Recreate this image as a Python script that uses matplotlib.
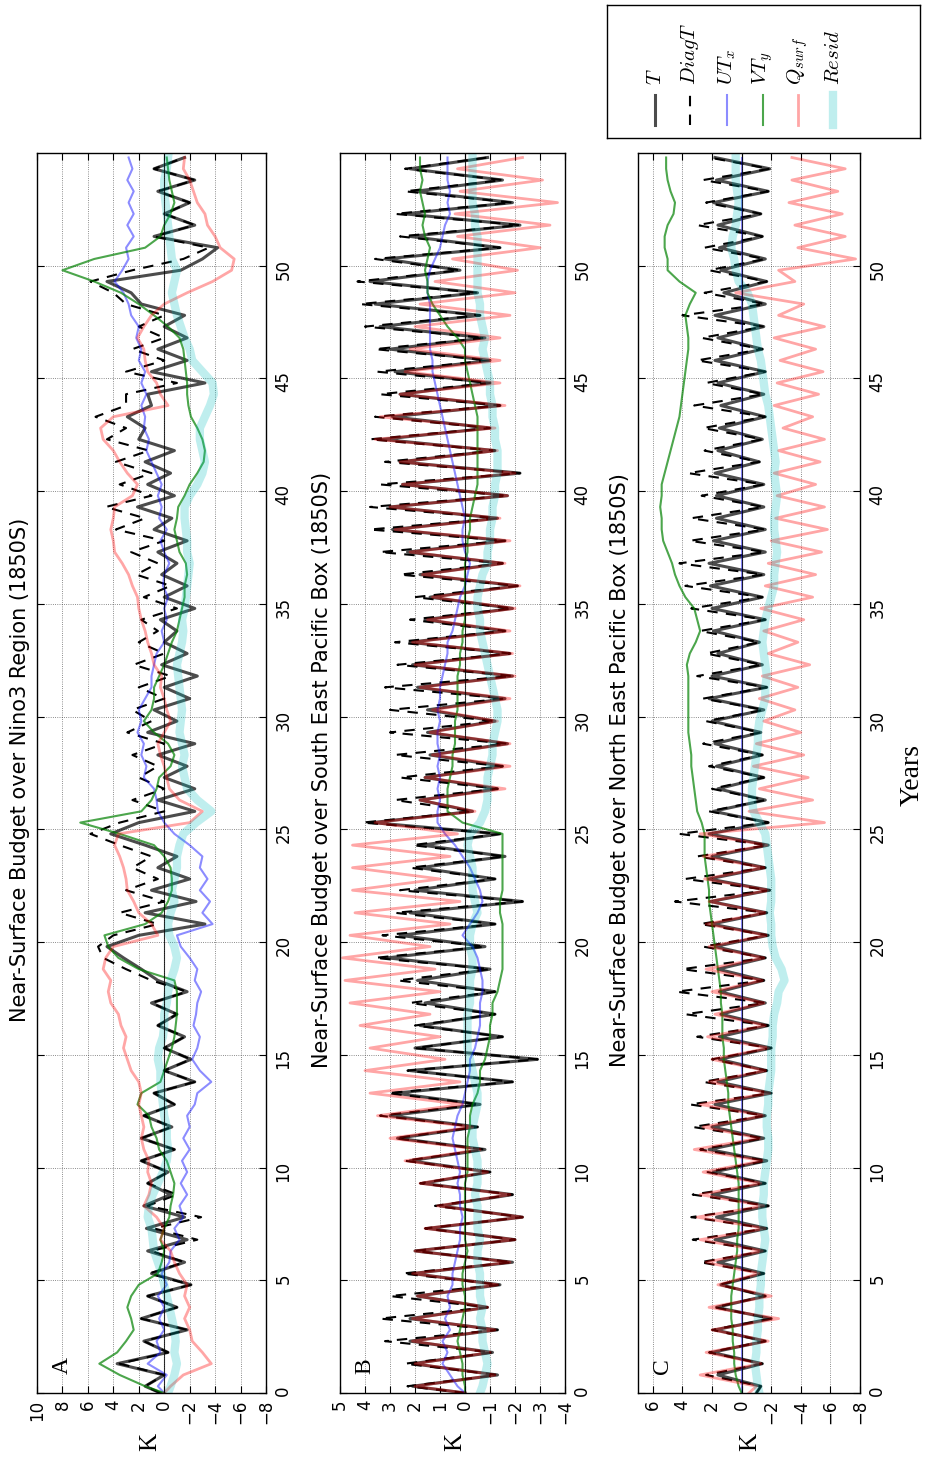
import numpy as np
import matplotlib
matplotlib.use("Agg")
import matplotlib.pyplot as plt

plt.rcParams["mathtext.fontset"] = "cm"
plt.rcParams["font.family"] = ["DejaVu Sans"]

# Sample times (years): start value, then alternating half-year extremes
years = np.concatenate([[0.0], 0.3 + 0.5 * np.arange(110)])

# ---------------- Nino3 region ----------------
T_A = [0.3,
       1.5, 0.0, 3.7, -0.3, 1.6, -1.8, 1.8, -1.0, 1.3, -2.1,
       1.0, -1.6, 1.3, -1.8, 1.4, -1.6, 1.6, -0.5, 1.3, -0.3,
       1.8, -0.8, 1.8, -0.6, 1.6, -0.8, 0.8, -2.4, 0.0, -2.1,
       0.0, -1.6, 0.5, -1.0, 1.0, -1.8, 0.5, 1.8, 3.2, 4.5,
       2.0, -3.2, 1.5, -2.5, 1.0, -2.0, 0.5, -1.0, 1.5, 4.2,
       2.0, -2.4, 0.5, -2.4, 0.0, -1.8, 0.5, -2.4, 1.3, -1.0,
       0.8, -2.0, 0.0, -2.6, 0.2, -1.8, 0.0, -1.0, 0.3, -2.4,
       0.0, -1.8, 0.2, -1.0, 0.5, -1.8, 0.8, -0.6, 2.1, -0.8,
       1.3, -0.5, 1.5, -0.8, 2.0, 1.5, 2.9, 1.0, 1.3, -3.2,
       1.0, -1.8, 0.5, -1.8, 0.0, -1.6, 1.8, 2.6, 4.5, -1.3,
       -3.0, -4.2, 0.8, -2.4, 0.0, -2.0, 0.5, -2.4, 0.8, -1.6]
DiagT_A = [0.3,
           1.5, 0.0, 3.5, -0.3, 1.6, -1.8, 1.8, -1.0, 1.3, -2.1,
           1.2, -1.6, 1.0, -2.6, 0.8, -2.9, 1.3, -1.0, 1.3, -0.3,
           1.8, -0.8, 1.8, -0.6, 1.6, -0.8, 0.8, -2.4, 0.0, -2.1,
           0.0, -1.6, 0.5, -1.0, 1.0, -1.8, 1.0, 3.0, 4.8, 5.2,
           4.0, 0.5, 3.5, 0.0, 3.0, 0.5, 2.5, 1.0, 3.5, 5.8,
           3.5, 0.0, 2.5, 0.0, 2.0, 0.5, 2.5, 0.0, 2.9, 1.0,
           2.5, 0.0, 2.0, -0.5, 2.4, 0.0, 2.0, 0.5, 1.8, -1.0,
           1.6, -0.5, 2.2, 0.5, 2.6, 0.0, 3.8, 1.5, 4.6, 1.0,
           3.5, 1.0, 3.8, 1.2, 4.5, 3.0, 5.4, 3.0, 3.0, -1.0,
           3.0, 0.0, 2.5, 0.0, 2.0, 0.0, 3.0, 4.0, 5.8, 2.5,
           -1.5, -3.5, 0.8, -2.4, 0.0, -2.0, 0.5, -2.4, 0.8, -1.6]
UTx_A = [0.0,
         0.5, -0.2, 1.3, 0.3, 0.6, 0.0, 0.4, 0.0, 0.5, -0.2,
         0.2, -0.4, -0.5, -1.2, -0.8, -1.5, -1.2, -1.8, -1.3, -1.8,
         -1.4, -2.0, -1.5, -2.0, -1.8, -2.4, -2.6, -3.7, -2.8, -2.2,
         -2.6, -2.8, -2.3, -2.5, -2.6, -2.9, -2.4, -2.6, -2.0, -1.3,
         -1.0, -3.8, -3.0, -3.6, -2.8, -3.4, -2.8, -3.0, -2.0, -0.8,
         0.0, 0.5, 0.6, 0.8, 1.6, 1.4, 1.8, 1.6, 2.1, 1.8,
         2.0, 1.5, 1.0, 1.0, 0.8, 0.6, 0.0, 0.2, -0.2, 0.0,
         -0.3, 0.1, 0.0, -0.4, 0.0, 0.3, -0.2, 0.4, 0.2, 0.5,
         0.2, 0.6, 1.0, 1.4, 1.2, 1.6, 1.5, 1.8, 1.4, 1.8,
         1.5, 2.0, 1.8, 2.2, 2.0, 2.6, 2.8, 3.2, 3.9, 3.3,
         2.8, 3.0, 2.4, 2.9, 2.4, 2.8, 2.4, 2.9, 2.5, 2.8]
VTy_A = [0.0,
         1.5, 3.5, 5.1, 3.7, 3.0, 2.4, 2.6, 2.9, 2.6, 2.0,
         0.5, 0.2, 0.0, 0.3, 0.0, -0.4, -0.5, -0.7, -0.8, -0.5,
         -0.2, 0.4, 0.6, 1.0, 1.2, 2.1, 1.8, 0.3, 0.0, -0.3,
         -0.6, -0.8, -0.9, -1.0, -1.0, -1.0, -0.8, 2.0, 3.6, 4.4,
         4.7, 1.5, 0.2, -0.3, -0.6, -0.6, -0.5, 0.0, 0.8, 3.5,
         6.6, 1.8, 1.0, 0.6, 0.4, -0.5, -0.8, -0.3, 0.8, 1.6,
         1.0, 0.8, 0.8, 0.4, 0.0, -0.3, -0.6, -1.0, -1.2, -1.4,
         -1.6, -1.6, -1.8, -1.7, -1.2, -1.0, -0.8, -1.0, -1.1, -1.6,
         -2.0, -2.6, -3.1, -3.2, -3.0, -2.6, -2.1, -1.9, -1.8, -1.8,
         -1.7, -1.6, -1.5, -1.2, -0.3, 0.8, 2.0, 3.4, 5.5, 8.0,
         5.5, 1.5, 0.3, 0.0, -0.5, -0.8, -0.6, -0.4, -0.3, -0.2]
Qsurf_A = [0.0,
           -0.5, -1.5, -3.7, -3.0, -2.2, -2.0, -1.6, -2.0, -1.6, -1.8,
           -1.2, -0.8, -0.5, 0.3, 0.0, 0.6, 1.6, 1.2, 1.0, 1.3,
           1.2, 1.6, 1.8, 1.6, 1.8, 2.0, 1.8, 2.0, 2.6, 2.9,
           3.2, 3.0, 3.4, 3.6, 4.2, 4.4, 4.2, 4.8, 4.6, 4.0,
           0.5, 1.0, 2.0, 2.4, 2.9, 3.0, 3.2, 3.5, 3.9, 3.6,
           -2.0, -3.0, -1.2, -0.4, -0.2, 0.0, 0.3, 0.5, 0.0, -0.5,
           -0.2, 0.0, 0.3, 0.2, 0.8, 1.0, 1.3, 1.5, 1.8, 2.0,
           2.1, 2.5, 2.8, 3.3, 3.9, 4.0, 4.2, 4.0, 3.9, 2.5,
           2.1, 2.9, 3.5, 4.0, 4.8, 5.0, 4.0, -0.3, 0.3, 0.6,
           1.3, 1.5, 1.6, 2.1, 1.6, 1.0, 0.0, -1.8, -3.8, -5.3,
           -5.5, -4.4, -4.0, -3.4, -3.2, -2.6, -2.3, -2.0, -1.5, -1.6]
Resid_A = [-0.3,
           -0.5, -0.8, -1.0, -0.8, -0.9, -0.8, -0.6, -0.4, -0.2, 0.0,
           0.2, 0.5, 0.8, 0.9, 1.0, 1.3, 1.2, 0.9, 0.5, 0.1,
           -0.2, -0.3, -0.2, -0.2, 0.0, 0.1, 0.2, 0.3, 0.3, 0.5,
           0.4, 0.1, 0.0, 0.0, -0.2, -0.3, -0.5, -0.8, -1.0, -0.8,
           -0.4, -0.3, -0.5, -0.8, -0.6, -0.8, -1.0, -1.0, -1.2, -1.5,
           -2.5, -3.7, -2.6, -1.8, -1.6, -1.4, -1.6, -1.4, -1.2, -1.3,
           -1.4, -1.3, -1.2, -1.1, -1.0, -1.2, -1.4, -1.5, -1.4, -1.6,
           -1.7, -1.8, -1.9, -2.0, -1.8, -1.8, -1.7, -1.6, -1.6, -2.0,
           -2.6, -3.0, -3.2, -3.0, -2.8, -2.8, -3.2, -3.6, -3.9, -3.8,
           -3.0, -2.2, -2.0, -1.6, -1.3, -1.0, -0.8, -0.6, -0.8, -1.0,
           -0.6, -0.5, -0.4, -0.3, -0.2, -0.1, 0.0, 0.0, -0.2, -0.3]

# ---------------- South East Pacific box ----------------
T_B = [0.0,
       2.1, -1.3, 2.1, -1.1, 2.2, -1.3, 2.2, -0.9, 1.9, -1.4,
       2.1, -1.9, 2.0, -2.0, 1.5, -2.3, 1.0, -1.9, 1.7, -1.0,
       2.2, -0.8, 2.7, -0.5, 3.0, -0.6, 2.8, -1.9, 2.2, -2.9,
       2.0, -1.5, 1.8, -1.2, 1.6, -1.2, 1.9, -1.0, 3.1, -0.8,
       2.6, -1.2, 2.2, -2.3, 2.0, -1.2, 1.8, -1.6, 1.7, -1.4,
       3.7, -0.3, 1.8, -1.3, 1.6, -1.5, 1.4, -1.7, 1.5, -1.2,
       1.5, -1.6, 1.9, -1.9, 2.1, -1.8, 2.2, -1.6, 1.6, -1.9,
       1.4, -2.1, 1.8, -1.5, 2.3, -1.6, 2.9, -1.3, 3.0, -1.7,
       2.5, -2.2, 2.6, -1.2, 3.3, -1.0, 2.9, -1.4, 2.6, -1.0,
       2.8, -1.0, 3.0, -0.8, 3.4, -0.6, 3.6, -0.5, 3.8, 0.2,
       3.2, -1.4, 2.2, -2.2, 2.4, -1.9, 2.0, -1.5, 2.2, -0.9]
DiagT_B = [0.0,
           2.3, -1.3, 2.4, -1.1, 3.2, -1.3, 3.4, -0.9, 3.0, -1.4,
           2.5, -1.9, 2.0, -2.0, 1.6, -2.3, 1.2, -1.9, 1.8, -1.0,
           2.4, -0.8, 2.8, -0.5, 3.4, -0.6, 3.1, -1.9, 2.3, -2.9,
           2.0, -1.5, 2.0, -1.2, 2.2, -1.2, 2.7, -1.0, 3.6, -0.8,
           3.3, -1.2, 2.8, -2.3, 2.6, -1.2, 2.2, -1.6, 2.1, -1.4,
           4.1, -0.3, 2.8, -1.3, 2.6, -1.5, 2.8, -1.7, 3.0, -1.2,
           3.0, -1.6, 3.2, -1.9, 2.7, -1.8, 2.8, -1.6, 2.2, -1.9,
           2.0, -2.1, 2.6, -1.5, 3.4, -1.6, 3.8, -1.3, 3.8, -1.7,
           3.4, -2.2, 3.2, -1.2, 3.8, -1.0, 3.6, -1.4, 3.4, -1.0,
           3.5, -1.0, 3.6, -0.8, 4.0, -0.6, 4.2, -0.5, 4.3, 0.2,
           3.6, -1.4, 2.6, -2.2, 2.8, -1.9, 2.4, -1.5, 2.4, -0.9]
UTx_B = [0.0,
         0.3, 0.6, 0.9, 0.7, 0.9, 0.6, 0.8, 0.6, 0.7, 0.5,
         0.5, 0.4, 0.3, 0.2, 0.2, 0.1, 0.2, 0.2, 0.3, 0.2,
         0.3, 0.4, 0.5, 0.4, 0.3, 0.1, 0.0, -0.1, -0.2, -0.2,
         -0.4, -0.5, -0.6, -0.6, -0.6, -0.7, -0.7, -0.6, -0.5, -0.3,
         0.1, -0.2, -0.5, -0.7, -0.6, -0.4, -0.2, 0.1, 0.4, 0.8,
         1.1, 1.1, 1.0, 1.1, 1.0, 1.1, 1.0, 1.1, 1.1, 1.0,
         1.1, 1.0, 1.0, 0.9, 0.8, 0.7, 0.7, 0.5, 0.4, 0.3,
         0.2, 0.0, -0.1, -0.2, 0.0, 0.1, 0.1, 0.0, 0.1, 0.2,
         0.3, 0.4, 0.5, 0.6, 0.7, 0.8, 0.9, 1.0, 1.1, 1.2,
         1.3, 1.3, 1.4, 1.4, 1.4, 1.4, 1.4, 1.5, 1.5, 1.4,
         1.2, 1.0, 0.9, 0.8, 0.6, 0.7, 0.6, 0.7, 0.7, 0.7]
VTy_B = [0.0,
         0.0, 0.1, 0.1, 0.2, 0.3, 0.2, 0.1, 0.0, 0.0, 0.1,
         0.1, 0.0, -0.1, 0.0, 0.0, 0.0, 0.0, 0.0, 0.0, -0.1,
         -0.1, -0.1, -0.1, -0.2, -0.2, -0.3, -0.5, -0.6, -0.6, -0.8,
         -0.9, -1.0, -1.0, -1.1, -1.1, -1.3, -1.4, -1.5, -1.5, -1.5,
         -1.5, -1.5, -1.4, -1.4, -1.5, -1.5, -1.5, -1.5, -1.5, -1.5,
         0.1, 0.7, 0.7, 0.7, 0.6, 0.5, 0.5, 0.4, 0.4, 0.4,
         0.3, 0.3, 0.3, 0.3, 0.2, 0.2, 0.1, 0.1, 0.0, 0.0,
         0.0, 0.0, 0.0, 0.0, -0.1, -0.1, -0.2, -0.2, -0.3, -0.4,
         -0.5, -0.5, -0.5, -0.5, -0.5, -0.5, -0.5, -0.4, -0.3, -0.2,
         -0.1, 0.0, 0.0, 0.3, 0.7, 1.0, 1.3, 1.5, 1.5, 1.6,
         1.5, 1.4, 1.6, 1.7, 1.6, 1.7, 1.8, 1.7, 1.8, 1.8]
Qsurf_B = [0.0,
           2.0, -1.2, 2.0, -1.0, 2.1, -1.2, 2.1, -0.9, 1.9, -1.3,
           2.1, -1.8, 2.0, -2.0, 1.6, -2.3, 1.1, -1.8, 1.8, -0.9,
           2.4, -0.6, 3.0, -0.3, 3.5, 0.1, 3.8, 0.2, 4.0, 0.8,
           3.8, 1.0, 4.2, 1.4, 4.6, 1.0, 4.8, 1.2, 4.9, 1.4,
           4.6, 0.6, 4.4, 0.2, 4.5, 1.0, 4.5, 0.6, 4.5, 0.3,
           3.6, -0.4, 1.8, -1.6, 1.6, -1.8, 1.3, -1.8, 1.4, -1.3,
           1.3, -1.8, 1.8, -2.0, 2.0, -1.9, 2.1, -1.8, 1.5, -2.0,
           1.3, -2.2, 1.7, -1.6, 2.2, -1.8, 2.8, -1.4, 3.0, -1.7,
           2.5, -2.0, 2.6, -1.3, 3.6, -1.2, 3.4, -1.6, 2.6, -1.4,
           2.4, -1.4, 2.2, -1.4, 2.0, -1.8, 1.8, -2.0, 1.2, -2.1,
           0.5, -3.0, 0.3, -3.4, 0.4, -3.7, 0.2, -3.1, 0.3, -2.3]
Resid_B = [-0.6,
           -0.7, -0.8, -0.9, -0.8, -0.7, -0.7, -0.6, -0.7, -0.6, -0.6,
           -0.6, -0.5, -0.5, -0.6, -0.5, -0.5, -0.5, -0.4, -0.5, -0.5,
           -0.5, -0.4, -0.3, -0.3, -0.4, -0.5, -0.5, -0.4, -0.3, -0.2,
           -0.1, -0.1, -0.1, -0.1, -0.2, -0.2, -0.2, -0.3, -0.3, -0.2,
           -0.2, -0.3, -0.5, -0.4, -0.3, -0.3, -0.3, -0.2, -0.1, -0.2,
           -0.6, -0.8, -0.9, -0.9, -0.9, -1.0, -1.1, -1.1, -1.2, -1.3,
           -1.3, -1.2, -1.1, -1.0, -0.9, -0.8, -0.7, -0.6, -0.6, -0.5,
           -0.5, -0.6, -0.7, -0.9, -0.9, -1.0, -1.0, -1.1, -1.1, -1.2,
           -1.2, -1.3, -1.3, -1.3, -1.2, -1.2, -1.1, -1.1, -1.0, -1.0,
           -0.9, -0.8, -0.7, -0.8, -0.7, -0.6, -0.6, -0.5, -0.5, -0.5,
           -0.5, -0.5, -0.5, -0.4, -0.4, -0.3, -0.3, -0.3, -0.3, -0.3]

# ---------------- North East Pacific box ----------------
T_C = [-1.0,
       -1.3, 1.6, -1.4, 2.0, -1.6, 1.8, -2.0, 1.7, -1.6, 1.4,
       -1.5, 1.6, -1.6, 1.8, -1.7, 1.7, -1.8, 2.0, -1.6, 1.9,
       -1.7, 2.2, -1.5, 2.0, -1.6, 1.8, -2.0, 1.6, -1.7, 1.5,
       -2.0, 1.5, -1.8, 1.4, -1.6, 1.5, -1.5, 1.6, -1.6, 1.8,
       -1.8, 2.0, -1.7, 2.1, -1.9, 2.2, -1.6, 2.0, -1.8, 2.2,
       -1.8, 1.9, -1.6, 1.6, -1.5, 1.7, -1.4, 1.8, -1.3, 2.0,
       -1.5, 2.2, -1.7, 2.0, -1.4, 1.6, -1.2, 1.9, -1.6, 2.0,
       -1.4, 2.1, -1.5, 2.2, -1.6, 1.9, -1.6, 1.7, -1.5, 1.7,
       -1.5, 1.8, -1.2, 1.6, -1.4, 1.5, -1.6, 1.4, -1.5, 1.6,
       -1.6, 1.8, -1.4, 1.6, -1.5, 1.8, -1.6, 1.2, -1.7, 1.4,
       -1.6, 1.5, -1.4, 1.6, -1.3, 1.9, -1.8, 1.7, -1.9, 1.8]
DiagT_C = [-1.0,
           -1.3, 2.4, -1.4, 2.2, -1.6, 2.0, -2.0, 1.8, -1.6, 1.5,
           -1.5, 2.8, -1.6, 3.3, -1.7, 3.4, -1.8, 3.3, -1.6, 2.3,
           -1.7, 2.8, -1.5, 3.3, -1.6, 3.5, -2.0, 2.6, -1.7, 2.0,
           -2.0, 3.0, -1.8, 3.8, -1.6, 4.4, -1.5, 4.0, -1.6, 2.6,
           -1.8, 2.8, -1.7, 4.5, -1.9, 3.8, -1.6, 3.0, -1.8, 4.2,
           -1.8, 2.2, -1.6, 2.0, -1.5, 2.2, -1.4, 2.6, -1.3, 2.4,
           -1.5, 2.6, -1.7, 3.0, -1.4, 2.4, -1.2, 2.8, -1.6, 3.4,
           -1.4, 3.8, -1.5, 4.2, -1.6, 3.5, -1.6, 3.4, -1.5, 2.7,
           -1.5, 3.6, -1.2, 2.5, -1.4, 2.6, -1.6, 3.2, -1.5, 2.4,
           -1.6, 3.0, -1.4, 2.7, -1.5, 4.0, -1.6, 2.5, -1.7, 2.2,
           -1.6, 2.5, -1.4, 3.0, -1.3, 2.4, -1.8, 2.6, -1.9, 2.2]
UTx_C = [0.0] * 111
VTy_C = [0.0,
         0.2, 0.4, 0.5, 0.5, 0.6, 0.6, 0.7, 0.7, 0.7, 0.6,
         0.5, 0.4, 0.3, 0.3, 0.2, 0.2, 0.2, 0.2, 0.2, 0.3,
         0.4, 0.5, 0.6, 0.7, 0.8, 0.9, 0.9, 1.0, 1.1, 1.2,
         1.2, 1.3, 1.3, 1.3, 1.4, 1.4, 1.5, 1.6, 1.7, 1.8,
         1.9, 2.0, 2.1, 2.2, 2.2, 2.3, 2.4, 2.5, 2.5, 2.5,
         2.7, 3.0, 3.1, 3.2, 3.3, 3.4, 3.4, 3.5, 3.6, 3.6,
         3.6, 3.6, 3.6, 3.6, 3.7, 3.5, 3.1, 2.8, 3.0, 3.2,
         3.8, 4.2, 4.5, 4.7, 5.0, 5.3, 5.4, 5.4, 5.5, 5.4,
         5.4, 5.2, 5.0, 4.8, 4.6, 4.4, 4.2, 4.1, 4.0, 3.9,
         3.8, 3.7, 3.6, 3.6, 3.7, 3.8, 3.5, 3.1, 4.2, 5.0,
         5.0, 5.2, 5.2, 5.0, 4.6, 4.5, 4.8, 5.0, 5.1, 5.1]
Qsurf_C = [-0.5,
           -1.0, 2.8, -1.3, 2.4, -1.8, 2.0, -2.5, 2.2, -2.0, 1.6,
           -1.2, 2.4, -1.4, 2.8, -1.6, 3.0, -1.5, 2.8, -1.3, 2.6,
           -1.4, 3.2, -1.2, 2.6, -1.5, 2.8, -1.9, 2.2, -1.6, 2.0,
           -1.8, 2.3, -1.6, 1.8, -1.5, 2.0, -1.4, 2.4, -1.5, 2.2,
           -1.7, 2.4, -1.6, 2.2, -1.8, 2.5, -1.5, 2.6, -1.7, 2.8,
           -5.6, -0.5, -4.8, -1.2, -4.5, -0.8, -4.2, -1.0, -4.0, -1.5,
           -3.6, -1.2, -3.8, -1.4, -4.6, -1.8, -3.8, -1.5, -4.2, -1.3,
           -4.8, -1.6, -5.0, -1.8, -5.4, -2.0, -5.8, -2.3, -5.6, -2.4,
           -5.0, -2.2, -5.3, -2.5, -5.6, -2.8, -4.8, -2.2, -5.2, -2.4,
           -5.5, -2.6, -5.0, -2.2, -5.6, -2.5, -4.2, 0.4, -3.6, -2.5,
           -7.7, -3.8, -7.0, -3.6, -6.8, -3.2, -6.5, -3.4, -7.0, -3.4]
Resid_C = [-1.2,
           -1.1, -1.0, -0.9, -1.0, -1.0, -1.1, -1.1, -1.2, -1.2, -1.3,
           -1.3, -1.4, -1.5, -1.6, -1.5, -1.4, -1.4, -1.5, -1.5, -1.6,
           -1.7, -1.8, -1.8, -1.7, -1.7, -1.8, -1.8, -1.9, -2.0, -2.0,
           -2.0, -2.1, -2.1, -2.2, -2.4, -2.5, -2.9, -2.7, -2.3, -2.1,
           -2.0, -2.0, -1.9, -2.0, -2.0, -2.0, -1.9, -1.8, -1.7, -1.6,
           -1.2, -0.8, -0.7, -0.7, -0.8, -0.9, -1.0, -1.1, -1.1, -1.2,
           -1.4, -1.6, -1.6, -1.7, -1.6, -1.5, -1.4, -1.5, -1.6, -1.8,
           -2.0, -2.2, -2.2, -2.3, -2.4, -2.3, -2.2, -2.2, -2.3, -2.4,
           -2.3, -2.2, -2.3, -2.2, -2.1, -2.0, -1.9, -1.8, -1.6, -1.5,
           -1.4, -1.3, -1.1, -1.0, -0.9, -0.8, -0.7, -0.4, 0.2, 0.4,
           0.5, 0.7, 0.6, 0.4, 0.3, 0.2, 0.3, 0.4, 0.4, 0.4]

titles = ["Near-Surface Budget over Nino3 Region (1850S)",
          "Near-Surface Budget over South East Pacific Box (1850S)",
          "Near-Surface Budget over North East Pacific Box (1850S)"]
letters = ["A", "B", "C"]
k_limits = [(10, -8), (5, -4), (7, -8)]
k_ticks = [np.arange(10, -9, -2), np.arange(5, -5, -1), np.arange(6, -9, -2)]
year_ticks = np.arange(0, 55, 5)
legend_labels = [r"$T$", r"$DiagT$", r"$UT_x$", r"$VT_y$", r"$Q_{surf}$", r"$Resid$"]

panel_data = [
    (T_A, DiagT_A, UTx_A, VTy_A, Qsurf_A, Resid_A),
    (T_B, DiagT_B, UTx_B, VTy_B, Qsurf_B, Resid_B),
    (T_C, DiagT_C, UTx_C, VTy_C, Qsurf_C, Resid_C),
]
for group in panel_data:
    for s in group:
        assert len(s) == len(years), len(s)

# line styles for the six budget terms
styles = [
    dict(color="k", lw=2.2, alpha=0.7),
    dict(color="k", lw=1.5, ls="--", dashes=(5, 4)),
    dict(color="b", lw=1.5, alpha=0.45),
    dict(color="g", lw=1.5, alpha=0.7),
    dict(color="r", lw=2.0, alpha=0.35),
    dict(color="c", lw=6.0, alpha=0.25),
]

W, H = 925, 1465
fig = plt.figure(figsize=(W / 100, H / 100), dpi=100)

# axes boxes in pixels: (left, right); vertical span shared
boxes = [(37, 266), (340, 565), (638, 860)]
top_px, bot_px = 153, 1393
title_x = [20, 322, 620]
klabel_x = [150, 455, 750]

for i in range(3):
    l, r = boxes[i]
    ax = fig.add_axes([l / W, 1 - bot_px / H, (r - l) / W, (bot_px - top_px) / H])
    for s, st in zip(panel_data[i], styles):
        ax.plot(s, years, solid_joinstyle="round", **st)
    ax.axvline(0, color="k", lw=0.8, alpha=0.8)
    ax.set_xlim(*k_limits[i])
    ax.set_ylim(0, 55)
    ax.set_xticks(k_ticks[i])
    ax.set_yticks(year_ticks)
    ax.grid(True, ls=":", color="k", lw=0.6, alpha=0.6)
    ax.tick_params(direction="in", length=5, top=True, bottom=True,
                   left=True, right=True, labelsize=12)
    ax.tick_params(axis="y", labelleft=False, labelright=True, labelrotation=90, pad=6)
    ax.tick_params(axis="x", labelrotation=90, pad=5)
    for sp in ax.spines.values():
        sp.set_linewidth(1.0)
    ax.text(0.11, 0.022, letters[i], transform=ax.transAxes, rotation=90,
            ha="center", va="center", fontsize=17, family="Liberation Serif")
    fig.text(title_x[i] / W, 1 - 770 / H, titles[i], rotation=90,
             ha="center", va="center", fontsize=15)
    fig.text(klabel_x[i] / W, 1 - 1442 / H, "K", rotation=90,
             ha="center", va="center", fontsize=18, family="Liberation Serif")

fig.text(912 / W, 1 - 775 / H, "Years", rotation=90, ha="center", va="center",
         fontsize=20, family="Liberation Serif")

# legend: one column per term, rotated labels above vertical line samples
lg = fig.add_axes([607 / W, 1 - 138 / H, (920 - 607) / W, 133 / H])
lg.set_xlim(0, 1)
lg.set_ylim(0, 1)
lg.set_xticks([])
lg.set_yticks([])
for sp in lg.spines.values():
    sp.set_linewidth(1.0)
col_x = [0.153, 0.265, 0.383, 0.498, 0.610, 0.722]
for cx, lab, st in zip(col_x, legend_labels, styles):
    lg.plot([cx, cx], [0.10, 0.32], **st)
    lg.text(cx, 0.40, lab, rotation=90, ha="center", va="bottom", fontsize=15)

fig.savefig("out.png", dpi=100)
